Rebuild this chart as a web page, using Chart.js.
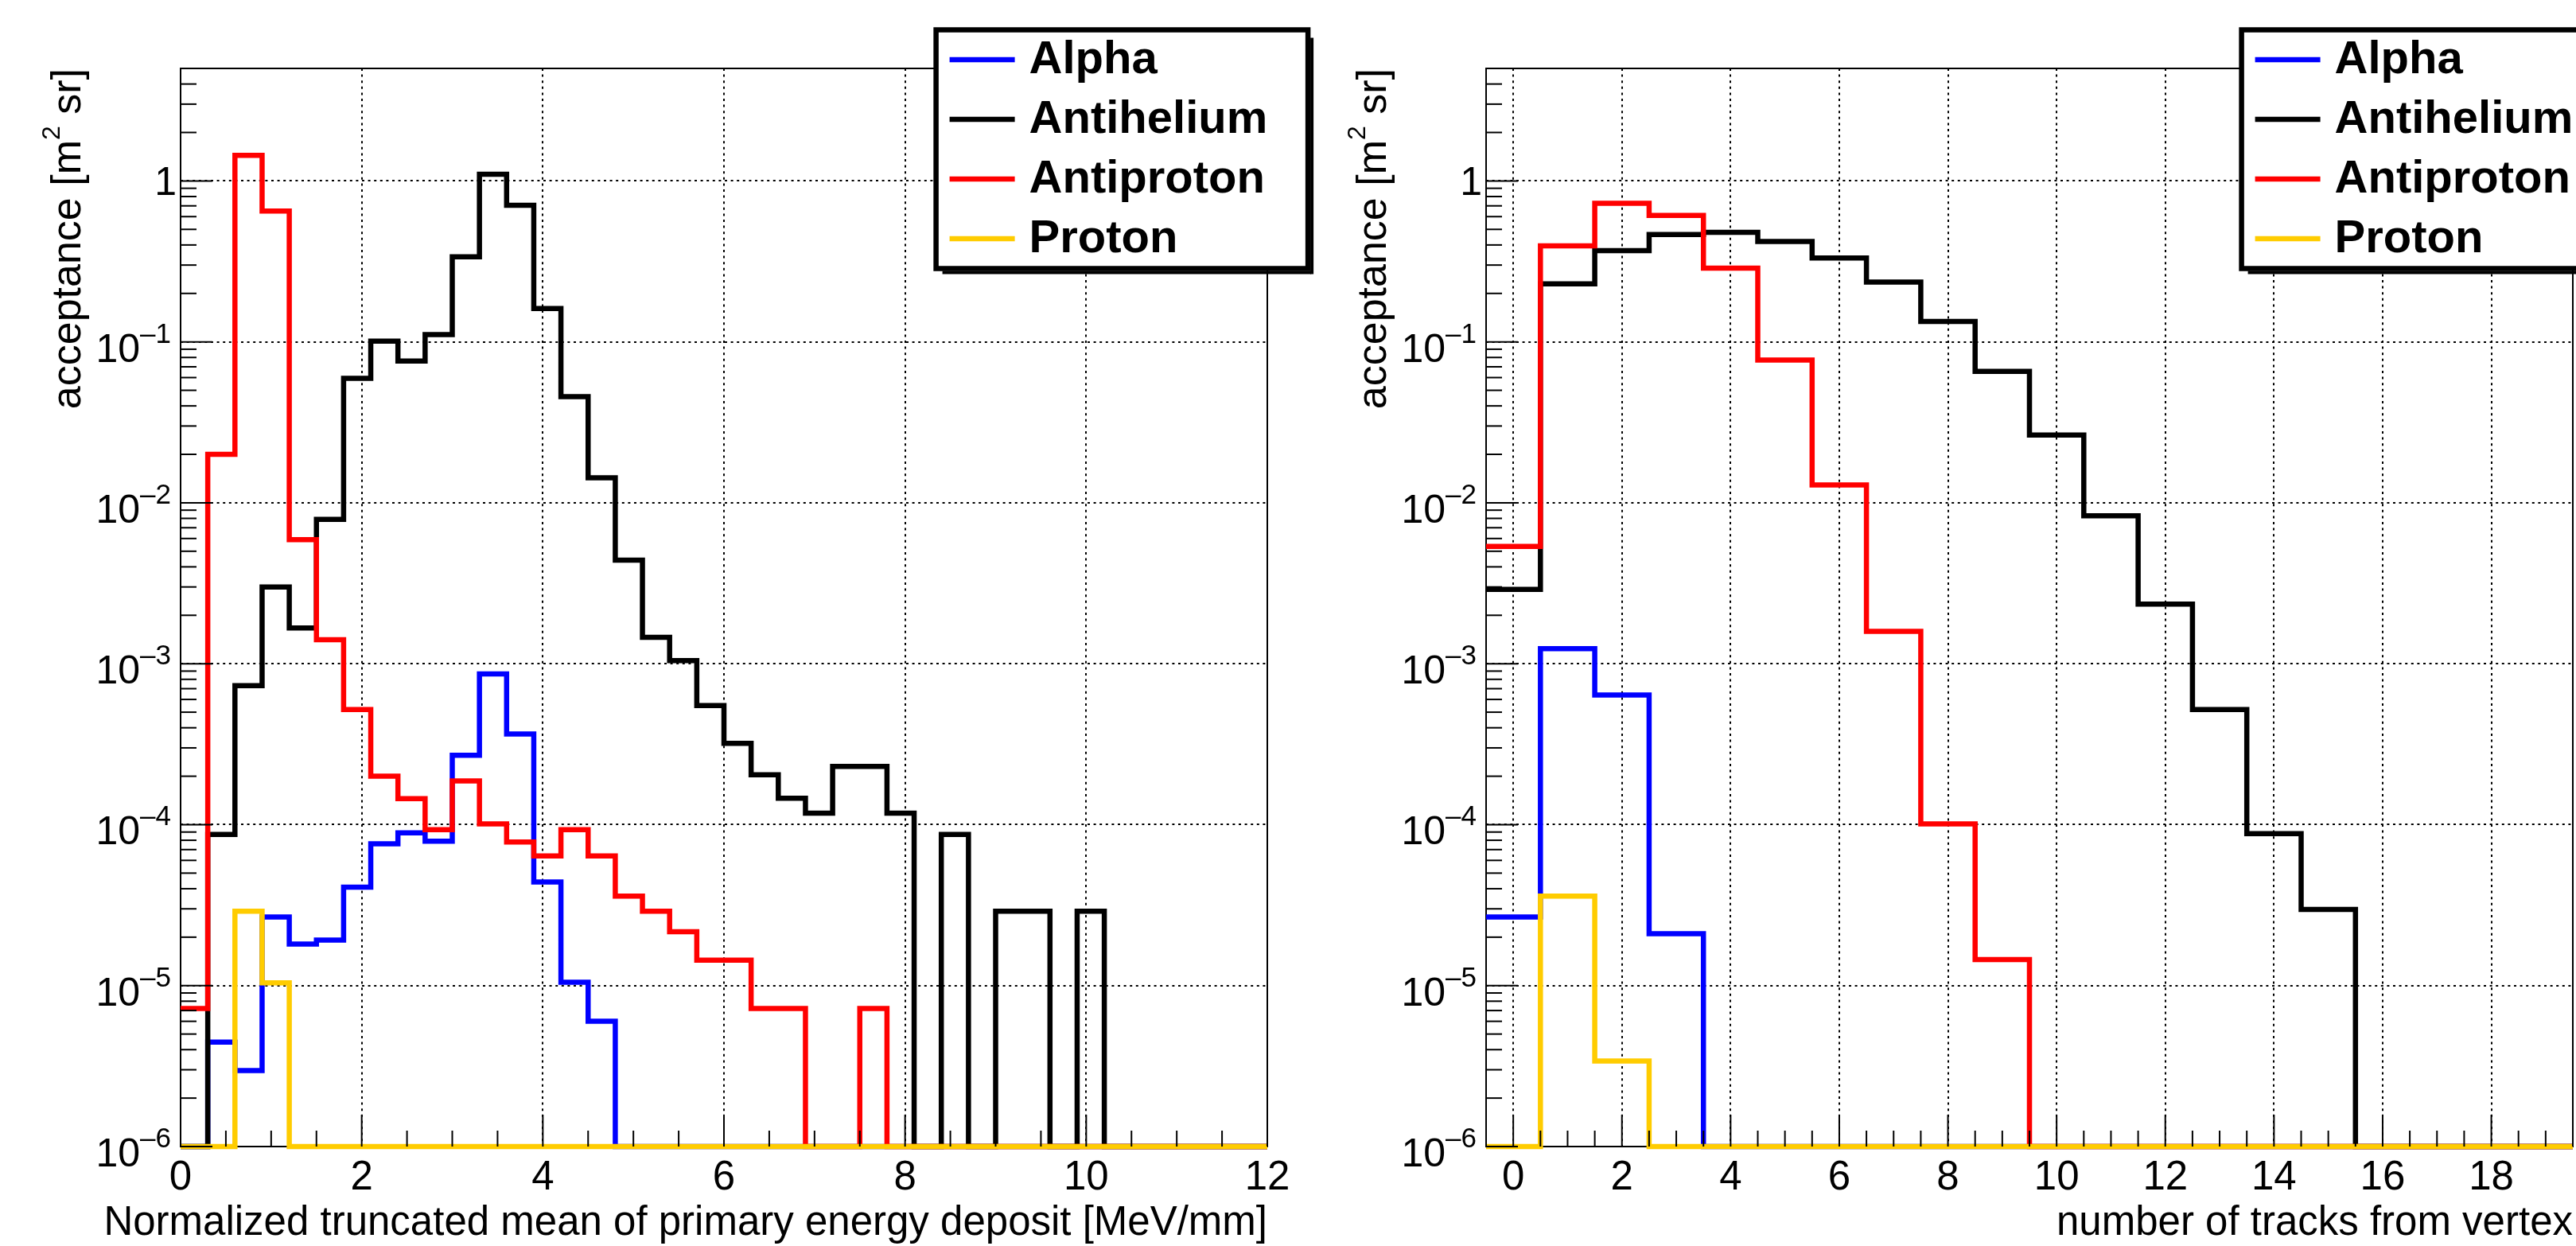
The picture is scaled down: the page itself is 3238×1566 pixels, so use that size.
<!DOCTYPE html>
<html>
<head>
<meta charset="utf-8">
<title>Acceptance histograms</title>
<script src="https://cdn.jsdelivr.net/npm/chart.js@4.4.1/dist/chart.umd.min.js"></script>
<style>
  html, body { margin: 0; padding: 0; background: #fff; overflow: hidden; }
  #page { position: relative; width: 3238px; height: 1566px; overflow: hidden; background: #fff; }
  .panel { position: absolute; top: 0; }
  #left-panel { left: 0; }
  #right-panel { left: 1641px; }
</style>
</head>
<body>
<div id="page">
  <div class="panel" id="left-panel"><canvas id="dedx-chart" width="1680" height="1566"></canvas></div>
  <div class="panel" id="right-panel"><canvas id="tracks-chart" width="1680" height="1566"></canvas></div>
</div>
<script>
const speciesNames = ['Alpha', 'Antihelium', 'Antiproton', 'Proton'];
const speciesColors = ['#0000ff', '#000000', '#ff0000', '#ffcc00'];

// left panel: 40 bins of 0.3 MeV/mm between 0 and 12
const dedxLow = 0;
const dedxBinWidth = 0.3;
const dedxAlpha = [0, 4.45e-6, 2.97e-6, 2.67e-5, 1.81e-5, 1.92e-5, 4.09e-5, 7.6e-5, 8.9e-5, 7.9e-5,
  2.7e-4, 8.65e-4, 3.66e-4, 4.4e-5, 1.05e-5, 6.0e-6, 0, 0, 0, 0,
  0, 0, 0, 0, 0, 0, 0, 0, 0, 0, 0, 0, 0, 0, 0, 0, 0, 0, 0, 0];
const dedxAntihelium = [0, 8.7e-5, 7.3e-4, 3.0e-3, 1.67e-3, 7.9e-3, 0.0593, 0.101, 0.076, 0.111,
  0.338, 1.10, 0.706, 0.161, 0.0457, 0.0143, 4.4e-3, 1.46e-3, 1.045e-3, 5.5e-4,
  3.2e-4, 2.04e-4, 1.46e-4, 1.18e-4, 2.3e-4, 2.3e-4, 1.18e-4, 0, 8.7e-5, 0,
  2.9e-5, 2.9e-5, 0, 2.9e-5, 0, 0, 0, 0, 0, 0];
const dedxAntiproton = [7.2e-6, 0.020, 1.44, 0.65, 0.0059, 1.41e-3, 5.2e-4, 2.0e-4, 1.45e-4, 9.3e-5,
  1.87e-4, 1.01e-4, 7.8e-5, 6.4e-5, 9.3e-5, 6.4e-5, 3.6e-5, 2.9e-5, 2.16e-5, 1.44e-5,
  1.44e-5, 7.2e-6, 7.2e-6, 0, 0, 7.2e-6, 0, 0, 0, 0,
  0, 0, 0, 0, 0, 0, 0, 0, 0, 0];
const dedxProton = [0, 0, 2.9e-5, 1.04e-5, 0, 0, 0, 0, 0, 0,
  0, 0, 0, 0, 0, 0, 0, 0, 0, 0, 0, 0, 0, 0, 0, 0, 0, 0, 0, 0,
  0, 0, 0, 0, 0, 0, 0, 0, 0, 0];

// right panel: one bin per track count, 0..19
const tracksLow = -0.5;
const tracksBinWidth = 1;
const tracksAlpha = [2.67e-5, 1.24e-3, 6.4e-4, 2.1e-5, 0, 0, 0, 0, 0, 0, 0, 0, 0, 0, 0, 0, 0, 0, 0, 0];
const tracksAntihelium = [2.9e-3, 0.229, 0.369, 0.465, 0.479, 0.421, 0.332, 0.235, 0.134, 0.0655,
  0.0264, 8.3e-3, 2.35e-3, 5.2e-4, 8.8e-5, 2.97e-5, 0, 0, 0, 0];
const tracksAntiproton = [5.35e-3, 0.395, 0.727, 0.611, 0.287, 0.077, 0.0129, 1.59e-3, 1.01e-4, 1.45e-5,
  0, 0, 0, 0, 0, 0, 0, 0, 0, 0];
const tracksProton = [0, 3.6e-5, 3.4e-6, 0, 0, 0, 0, 0, 0, 0, 0, 0, 0, 0, 0, 0, 0, 0, 0, 0];

// axes
const yMin = 1e-6;
const yMax = 5;
const yDecades = [-6, -5, -4, -3, -2, -1, 0];
const yMinorSteps = [2, 3, 4, 5, 6, 7, 8, 9];
const dedxTicks = [0, 2, 4, 6, 8, 10, 12];
const dedxTickLabels = ['0', '2', '4', '6', '8', '10', '12'];
const tracksTicks = [0, 2, 4, 6, 8, 10, 12, 14, 16, 18];
const tracksTickLabels = ['0', '2', '4', '6', '8', '10', '12', '14', '16', '18'];

const FONT = '"Liberation Sans", Arial, Helvetica, sans-serif';
const legendBox = { x: 1176.6, y: 37.5, w: 467.5, h: 300 };

function histPoints(values, low, width) {
  // ROOT draws empty bins on the floor of a log axis
  const pts = values.map((v, i) => ({ x: low + i * width, y: v > 0 ? v : yMin }));
  const last = values[values.length - 1];
  pts.push({ x: low + values.length * width, y: last > 0 ? last : yMin });
  return pts;
}

function drawPowerLabel(ctx, exp, xRight, yPix) {
  ctx.fillStyle = '#000';
  ctx.textAlign = 'right';
  ctx.textBaseline = 'alphabetic';
  if (exp === 0) {
    ctx.font = '50px ' + FONT;
    ctx.fillText('1', xRight + 7, yPix + 18);
    return;
  }
  const sup = '\u2013' + Math.abs(exp);
  ctx.font = '35px ' + FONT;
  const supW = ctx.measureText(sup).width;
  ctx.fillText(sup, xRight, yPix + 1);
  ctx.font = '50px ' + FONT;
  ctx.fillText('10', xRight - supW, yPix + 25);
}

function makeRootStyle(cfg) {
  return {
    id: 'rootStyle',
    beforeDatasetsDraw(chart) {
      const ctx = chart.ctx;
      const ca = chart.chartArea;
      const xs = chart.scales.x;
      const ys = chart.scales.y;
      ctx.save();
      // dotted grid
      ctx.strokeStyle = '#000';
      ctx.lineWidth = 2;
      ctx.setLineDash([3, 4.6]);
      cfg.xTicks.forEach(v => {
        const px = Math.round(xs.getPixelForValue(v));
        if (px <= ca.left + 1 || px >= ca.right - 1) return;
        ctx.beginPath();
        ctx.moveTo(px, ca.top);
        ctx.lineTo(px, ca.bottom);
        ctx.stroke();
      });
      yDecades.forEach(e => {
        const py = Math.round(ys.getPixelForValue(Math.pow(10, e)));
        if (py <= ca.top + 1 || py >= ca.bottom - 1) return;
        ctx.beginPath();
        ctx.moveTo(ca.left, py);
        ctx.lineTo(ca.right, py);
        ctx.stroke();
      });
      ctx.setLineDash([]);
      // frame
      ctx.lineWidth = 2;
      ctx.strokeRect(ca.left, ca.top, ca.right - ca.left, ca.bottom - ca.top);
      ctx.restore();
    },
    afterDatasetsDraw(chart) {
      const ctx = chart.ctx;
      const ca = chart.chartArea;
      const xs = chart.scales.x;
      const ys = chart.scales.y;
      ctx.save();
      ctx.strokeStyle = '#000';
      ctx.lineWidth = 2;

      // y ticks inside the frame
      yDecades.forEach(e => {
        const base = Math.pow(10, e);
        const py = ys.getPixelForValue(base);
        ctx.beginPath();
        ctx.moveTo(ca.left, py);
        ctx.lineTo(ca.left + 40, py);
        ctx.stroke();
        yMinorSteps.forEach(k => {
          const v = k * base;
          if (v >= yMax) return;
          const pm = ys.getPixelForValue(v);
          ctx.beginPath();
          ctx.moveTo(ca.left, pm);
          ctx.lineTo(ca.left + 20, pm);
          ctx.stroke();
        });
      });

      // x ticks: major every 2, minor every 0.5
      const xmin = xs.min, xmax = xs.max;
      for (let v = Math.ceil(xmin * 2) / 2; v <= xmax + 1e-9; v += 0.5) {
        const major = cfg.xTicks.some(t => Math.abs(t - v) < 1e-9);
        const px = xs.getPixelForValue(v);
        ctx.beginPath();
        ctx.moveTo(px, ca.bottom);
        ctx.lineTo(px, ca.bottom - (major ? 40 : 20));
        ctx.stroke();
      }

      // tick labels
      yDecades.forEach(e => drawPowerLabel(ctx, e, ca.left - 12, ys.getPixelForValue(Math.pow(10, e))));
      ctx.font = '51px ' + FONT;
      ctx.textAlign = 'center';
      ctx.fillStyle = '#000';
      cfg.xTicks.forEach((v, i) => {
        ctx.fillText(cfg.xTickLabels[i], xs.getPixelForValue(v), ca.bottom + 54);
      });

      // x title, right aligned on the axis end
      ctx.textAlign = 'right';
      ctx.fillText(cfg.xTitle, ca.right, ca.bottom + 111);

      // y title with superscript
      ctx.save();
      ctx.translate(101, ca.top);
      ctx.rotate(-Math.PI / 2);
      ctx.textAlign = 'left';
      const p1 = 'acceptance [m', p2 = '2', p3 = ' sr]';
      ctx.font = '52px ' + FONT;
      const w1 = ctx.measureText(p1).width, w3 = ctx.measureText(p3).width;
      ctx.font = '32px ' + FONT;
      const w2 = ctx.measureText(p2).width;
      let x0 = -(w1 + w2 + w3);
      ctx.font = '52px ' + FONT;
      ctx.fillText(p1, x0, 0);
      ctx.font = '32px ' + FONT;
      ctx.fillText(p2, x0 + w1, -26);
      ctx.font = '52px ' + FONT;
      ctx.fillText(p3, x0 + w1 + w2, 0);
      ctx.restore();

      // legend box with shadow
      const b = legendBox;
      ctx.fillStyle = '#000';
      ctx.fillRect(b.x + 8, b.y + b.h + 3, b.w - 4, 4);
      ctx.fillRect(b.x + b.w + 3, b.y + 10, 4, b.h - 3);
      ctx.fillStyle = '#fff';
      ctx.fillRect(b.x, b.y, b.w, b.h);
      ctx.lineWidth = 6.5;
      ctx.strokeStyle = '#000';
      ctx.strokeRect(b.x, b.y, b.w, b.h);
      ctx.font = 'bold 58px ' + FONT;
      ctx.textAlign = 'left';
      chart.data.datasets.forEach((ds, i) => {
        const cy = b.y + 37.5 + i * 75;
        ctx.strokeStyle = ds.borderColor;
        ctx.lineWidth = 6.5;
        ctx.beginPath();
        ctx.moveTo(b.x + 17, cy);
        ctx.lineTo(b.x + 99, cy);
        ctx.stroke();
        ctx.fillStyle = '#000';
        ctx.fillText(ds.label, b.x + 117, cy + 17);
      });
      ctx.restore();
    }
  };
}

function makePanel(canvasId, series, low, width, xMin, xMax, cfg) {
  const canvas = document.getElementById(canvasId);
  const datasets = series.map((vals, i) => ({
    label: speciesNames[i],
    data: histPoints(vals, low, width),
    borderColor: speciesColors[i],
    borderWidth: 6.5,
    pointRadius: 0,
    stepped: true,
    fill: false,
    clip: 10,
    borderJoinStyle: 'miter',
    order: series.length - 1 - i
  }));
  return new Chart(canvas.getContext('2d'), {
    type: 'line',
    data: { datasets: datasets },
    options: {
      responsive: false,
      animation: false,
      events: [],
      layout: { padding: { left: 227, top: 86, right: canvas.width - 1593, bottom: canvas.height - 1441 } },
      scales: {
        x: { type: 'linear', min: xMin, max: xMax, display: false },
        y: { type: 'logarithmic', min: yMin, max: yMax, display: false }
      },
      plugins: { legend: { display: false }, tooltip: { enabled: false } }
    },
    plugins: [makeRootStyle(cfg)]
  });
}

makePanel('dedx-chart', [dedxAlpha, dedxAntihelium, dedxAntiproton, dedxProton],
  dedxLow, dedxBinWidth, 0, 12,
  { xTicks: dedxTicks, xTickLabels: dedxTickLabels,
    xTitle: 'Normalized truncated mean of primary energy deposit [MeV/mm]' });

makePanel('tracks-chart', [tracksAlpha, tracksAntihelium, tracksAntiproton, tracksProton],
  tracksLow, tracksBinWidth, -0.5, 19.5,
  { xTicks: tracksTicks, xTickLabels: tracksTickLabels,
    xTitle: 'number of tracks from vertex' });
</script>
</body>
</html>
